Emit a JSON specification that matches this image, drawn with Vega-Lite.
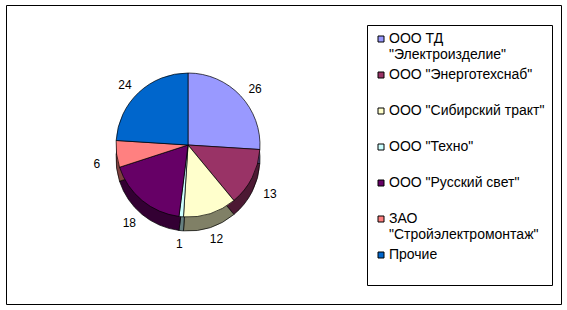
{
  "$schema": "https://vega.github.io/schema/vega-lite/v6.json",
  "width": 567,
  "height": 310,
  "autosize": {"type": "fit", "contains": "padding"},
  "padding": {"left": 6, "top": 5, "right": 6, "bottom": 6},
  "background": "white",
  "config": {
    "view": {"stroke": "black", "strokeWidth": 1},
    "font": "Liberation Sans"
  },
  "data": {
    "values": [
      {"company": "ООО ТД \"Электроизделие\"", "share": 26, "idx": 1},
      {"company": "ООО \"Энерготехснаб\"", "share": 13, "idx": 2},
      {"company": "ООО \"Сибирский тракт\"", "share": 12, "idx": 3},
      {"company": "ООО \"Техно\"", "share": 1, "idx": 4},
      {"company": "ООО \"Русский свет\"", "share": 18, "idx": 5},
      {"company": "ЗАО \"Стройэлектромонтаж\"", "share": 6, "idx": 6},
      {"company": "Прочие", "share": 24, "idx": 7}
    ]
  },
  "resolve": {"scale": {"color": "independent"}},
  "layer": [
    {
      "mark": {"type": "arc", "outerRadius": 72, "stroke": "black", "strokeWidth": 0.7},
      "encoding": {
        "theta": {"field": "share", "type": "quantitative", "stack": true},
        "order": {"field": "idx", "type": "quantitative"},
        "x": {"value": 182},
        "y": {"value": 154},
        "color": {
          "field": "company",
          "type": "nominal",
          "scale": {
            "domain": ["ООО ТД \"Электроизделие\"", "ООО \"Энерготехснаб\"", "ООО \"Сибирский тракт\"", "ООО \"Техно\"", "ООО \"Русский свет\"", "ЗАО \"Стройэлектромонтаж\"", "Прочие"],
            "range": ["#4C4C80", "#4C1933", "#808066", "#668080", "#330033", "#804040", "#003366"]
          },
          "legend": null
        }
      }
    },
    {
      "mark": {"type": "arc", "outerRadius": 72, "stroke": "black", "strokeWidth": 0.7},
      "encoding": {
        "theta": {"field": "share", "type": "quantitative", "stack": true},
        "order": {"field": "idx", "type": "quantitative"},
        "x": {"value": 182},
        "y": {"value": 140},
        "color": {
          "field": "company",
          "type": "nominal",
          "scale": {
            "domain": ["ООО ТД \"Электроизделие\"", "ООО \"Энерготехснаб\"", "ООО \"Сибирский тракт\"", "ООО \"Техно\"", "ООО \"Русский свет\"", "ЗАО \"Стройэлектромонтаж\"", "Прочие"],
            "range": ["#9999FF", "#993366", "#FFFFCC", "#CCFFFF", "#660066", "#FF8080", "#0066CC"]
          },
          "legend": {
            "orient": "none",
            "legendX": 361,
            "legendY": 20,
            "title": null,
            "symbolType": "square",
            "symbolSize": 36,
            "symbolStrokeColor": "black",
            "symbolStrokeWidth": 1,
            "labelFontSize": 14,
            "labelFont": "Liberation Sans",
            "labelColor": "black",
            "labelLimit": 0,
            "labelOffset": 1,
            "labelBaseline": "middle",
            "rowPadding": 6,
            "padding": 7,
            "strokeColor": "black",
            "fillColor": "white",
            "labelExpr": "datum.label == 'ООО ТД \"Электроизделие\"' ? ['ООО ТД', '\"Электроизделие\"'] : datum.label == 'ЗАО \"Стройэлектромонтаж\"' ? ['ЗАО', '\"Стройэлектромонтаж\"'] : [datum.label, '']",
            "encoding": {
              "labels": {"update": {"dy": {"value": 9}, "lineHeight": {"value": 18}}}
            }
          }
        }
      }
    },
    {
      "mark": {"type": "text", "radius": 92, "fontSize": 12, "font": "Liberation Sans", "color": "black"},
      "encoding": {
        "theta": {"field": "share", "type": "quantitative", "stack": true},
        "order": {"field": "idx", "type": "quantitative"},
        "x": {"value": 182},
        "y": {"value": 147},
        "text": {"field": "share", "type": "quantitative"}
      }
    }
  ]
}
